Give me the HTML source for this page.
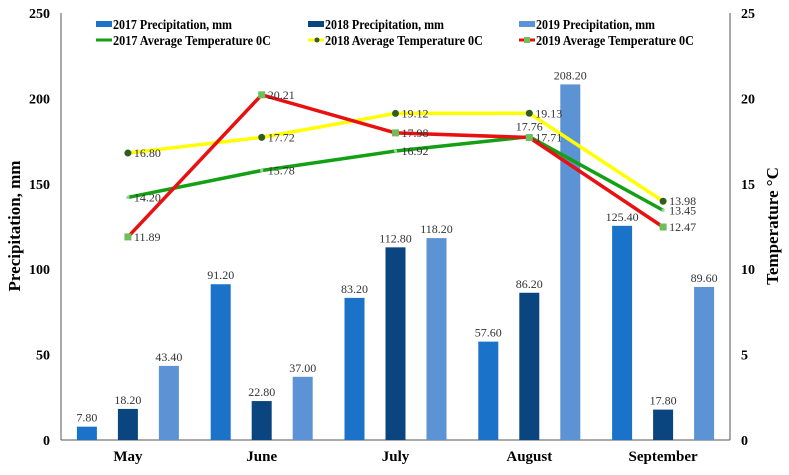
<!DOCTYPE html>
<html><head><meta charset="utf-8"><style>
body{margin:0;background:#fff}
svg text{font-family:"Liberation Serif",serif}
</style></head><body>
<svg id="c" width="789" height="470" xmlns="http://www.w3.org/2000/svg"></svg>
<script>
const months=["May","June","July","August","September"];
const p2017=[7.8,91.2,83.2,57.6,125.4];
const p2018=[18.2,22.8,112.8,86.2,17.8];
const p2019=[43.4,37.0,118.2,208.2,89.6];
const t2017=[14.20,15.78,16.92,17.76,13.45];
const t2018=[16.80,17.72,19.12,19.13,13.98];
const t2019=[11.89,20.21,17.98,17.71,12.47];
const leftTicks=[0,50,100,150,200,250];
const rightTicks=[0,5,10,15,20,25];
const NS="http://www.w3.org/2000/svg";
const svg=document.getElementById('c');
const X0=61,X1=730,Y0=440,Y1=13;
const yP=v=>Y0-(v/250)*(Y0-Y1);
const yT=v=>Y0-(v/25)*(Y0-Y1);
const cx=i=>X0+(i+0.5)*(X1-X0)/5;
function el(t,a,txt){const e=document.createElementNS(NS,t);for(const k in a)e.setAttribute(k,a[k]);if(txt!=null)e.textContent=txt;svg.appendChild(e);return e;}
let e;
e=el('line',{x1:X0,y1:Y1,x2:X0,y2:Y0,stroke:'#555'});

e=el('line',{x1:X1,y1:Y1,x2:X1,y2:Y0,stroke:'#555'});

e=el('line',{x1:X0,y1:Y0,x2:X1,y2:Y0,stroke:'#555'});

leftTicks.forEach(v=>{e=el('text',{x:50,y:yP(v)+5,'text-anchor':'end','font-size':14,'font-weight':'bold'},v);
});
rightTicks.forEach(v=>{e=el('text',{x:741,y:yT(v)+5,'text-anchor':'start','font-size':14,'font-weight':'bold'},v);
});
months.forEach((m,i)=>{e=el('text',{x:cx(i),y:461,'text-anchor':'middle','font-size':15,'font-weight':'bold'},m);
});
e=el('text',{x:20,y:226,'text-anchor':'middle','font-size':17,'font-weight':'bold',transform:'rotate(-90 20 226)'},'Precipitation, mm');

e=el('text',{x:778,y:226,'text-anchor':'middle','font-size':17,'font-weight':'bold',transform:'rotate(-90 778 226)'},'Temperature °C');

const bars=[[p2017,'#1a73c9',-41],[p2018,'#0b4580',0],[p2019,'#5b93d5',41]];
bars.forEach(([d,c,off],s)=>d.forEach((v,i)=>{
 const x=cx(i)+off-10;
 e=el('rect',{x:x,y:yP(v),width:20,height:Y0-yP(v),fill:c});
 
 e=el('text',{x:x+10,y:yP(v)-5,'text-anchor':'middle','font-size':12,fill:'#333'},v.toFixed(2));
 
}));
const lines=[[t2017,'#14a014',null],[t2018,'#ffff00','circle'],[t2019,'#e81010','square']];
lines.forEach(([d,c,mk],s)=>{
 const pts=d.map((v,i)=>cx(i)+','+yT(v)).join(' ');
 e=el('polyline',{points:pts,fill:'none',stroke:c,'stroke-width':3.5});
 
});
lines.forEach(([d,c,mk],s)=>{
 d.forEach((v,i)=>{
  if(mk==='circle'){e=el('circle',{cx:cx(i),cy:yT(v),r:3.5,fill:'#2e5e1e'});}
  else if(mk==='square'){e=el('rect',{x:cx(i)-3.5,y:yT(v)-3.5,width:7,height:7,fill:'#6cbf5a'});}
  else {e=el('rect',{x:cx(i)-1.5,y:yT(v)-1.5,width:3,height:3,fill:'#9fd49a'});}
  
  let lx=cx(i)+6,ly=yT(v)+4,anc='start';
  if(s===0&&i===3){lx=cx(i);ly=yT(v)-6;anc='middle';}
  e=el('text',{x:lx,y:ly,'text-anchor':anc,'font-size':12,fill:'#333'},v.toFixed(2));
  
 });
});
const leg=[[96,24,'rect','#1a73c9','2017 Precipitation, mm',119],[308,24,'rect','#0b4580','2018 Precipitation, mm',119],[519,24,'rect','#5b93d5','2019 Precipitation, mm',119],
[96,40,'line','#14a014','2017 Average Temperature 0C',158],[308,40,'line','#ffff00','2018 Average Temperature 0C',158],[519,40,'line','#e81010','2019 Average Temperature 0C',158]];
leg.forEach(([x,y,k,c,t,w],i)=>{
 if(k==='rect')e=el('rect',{x:x,y:y-3,width:16,height:6,fill:c});
 else e=el('rect',{x:x,y:y-1.5,width:16,height:3,fill:c});
 
 if(i===4){e=el('circle',{cx:x+9,cy:y,r:2.5,fill:'#2e5e1e'});}
 if(i===5){e=el('rect',{x:x+5,y:y-3,width:6,height:6,fill:'#6cbf5a'});}
 e=el('text',{x:x+17,y:y+5,'font-size':14,'font-weight':'bold',textLength:w,lengthAdjust:'spacingAndGlyphs'},t);
 
});
</script>
</body></html>
